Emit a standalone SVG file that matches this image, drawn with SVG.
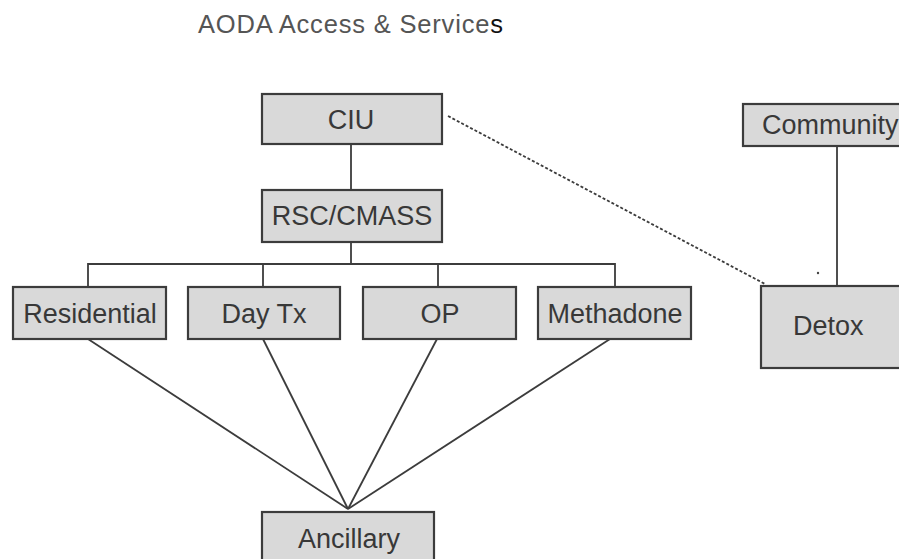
<svg xmlns="http://www.w3.org/2000/svg" width="899" height="559" viewBox="0 0 899 559">
<style>
.box{fill:#d9d9d9;stroke:#3c3c3c;stroke-width:2.2}
.lbl{font-family:"Liberation Sans",Arial,sans-serif;font-size:27px;fill:#383838}
.c{text-anchor:middle}
.ln{stroke:#3c3c3c;stroke-width:1.8;fill:none}
.dot{stroke:#3c3c3c;stroke-width:1.8;fill:none;stroke-dasharray:3,2}
</style>
<rect width="899" height="559" fill="#ffffff"/>
<text x="198" y="33" class="lbl" style="font-size:25.5px;fill:#555" textLength="305" lengthAdjust="spacing">AODA Access &amp; Service<tspan style="fill:#111">s</tspan></text>
<g id="connectors">
<line class="ln" x1="351" y1="144" x2="351" y2="190"/>
<line class="ln" x1="351" y1="242" x2="351" y2="264"/>
<polyline class="ln" points="88,287 88,264 615,264 615,287"/>
<line class="ln" x1="263" y1="264" x2="263" y2="287"/>
<line class="ln" x1="438" y1="264" x2="438" y2="287"/>
<line class="ln" x1="88" y1="339" x2="348" y2="509"/>
<line class="ln" x1="263" y1="339" x2="348" y2="509"/>
<line class="ln" x1="437" y1="339" x2="348" y2="509"/>
<line class="ln" x1="610" y1="339" x2="348" y2="509"/>
<line class="ln" x1="837" y1="146" x2="837" y2="286"/>
<line class="dot" x1="448" y1="116" x2="765" y2="284"/>
<circle cx="818" cy="273" r="1.2" fill="#444"/>
</g>
<g id="ciu"><rect class="box" x="262" y="94" width="180" height="50"/><text class="lbl c" x="351" y="129">CIU</text></g>
<g id="rsc"><rect class="box" x="262" y="190" width="180" height="52"/><text class="lbl c" x="352" y="225">RSC/CMASS</text></g>
<g id="residential"><rect class="box" x="13" y="287" width="153" height="52"/><text class="lbl c" x="90" y="323">Residential</text></g>
<g id="daytx"><rect class="box" x="188" y="287" width="152" height="52"/><text class="lbl c" x="264" y="323">Day Tx</text></g>
<g id="op"><rect class="box" x="363" y="287" width="153" height="52"/><text class="lbl c" x="440" y="323">OP</text></g>
<g id="methadone"><rect class="box" x="538" y="287" width="153" height="52"/><text class="lbl c" x="615" y="323">Methadone</text></g>
<g id="community"><rect class="box" x="743" y="104" width="170" height="42"/><text class="lbl" x="762" y="134">Community</text></g>
<g id="detox"><rect class="box" x="761" y="286" width="150" height="82"/><text class="lbl" x="793" y="335">Detox</text></g>
<g id="ancillary"><rect class="box" x="262" y="512" width="172" height="60"/><text class="lbl c" x="349" y="548">Ancillary</text></g>
</svg>
